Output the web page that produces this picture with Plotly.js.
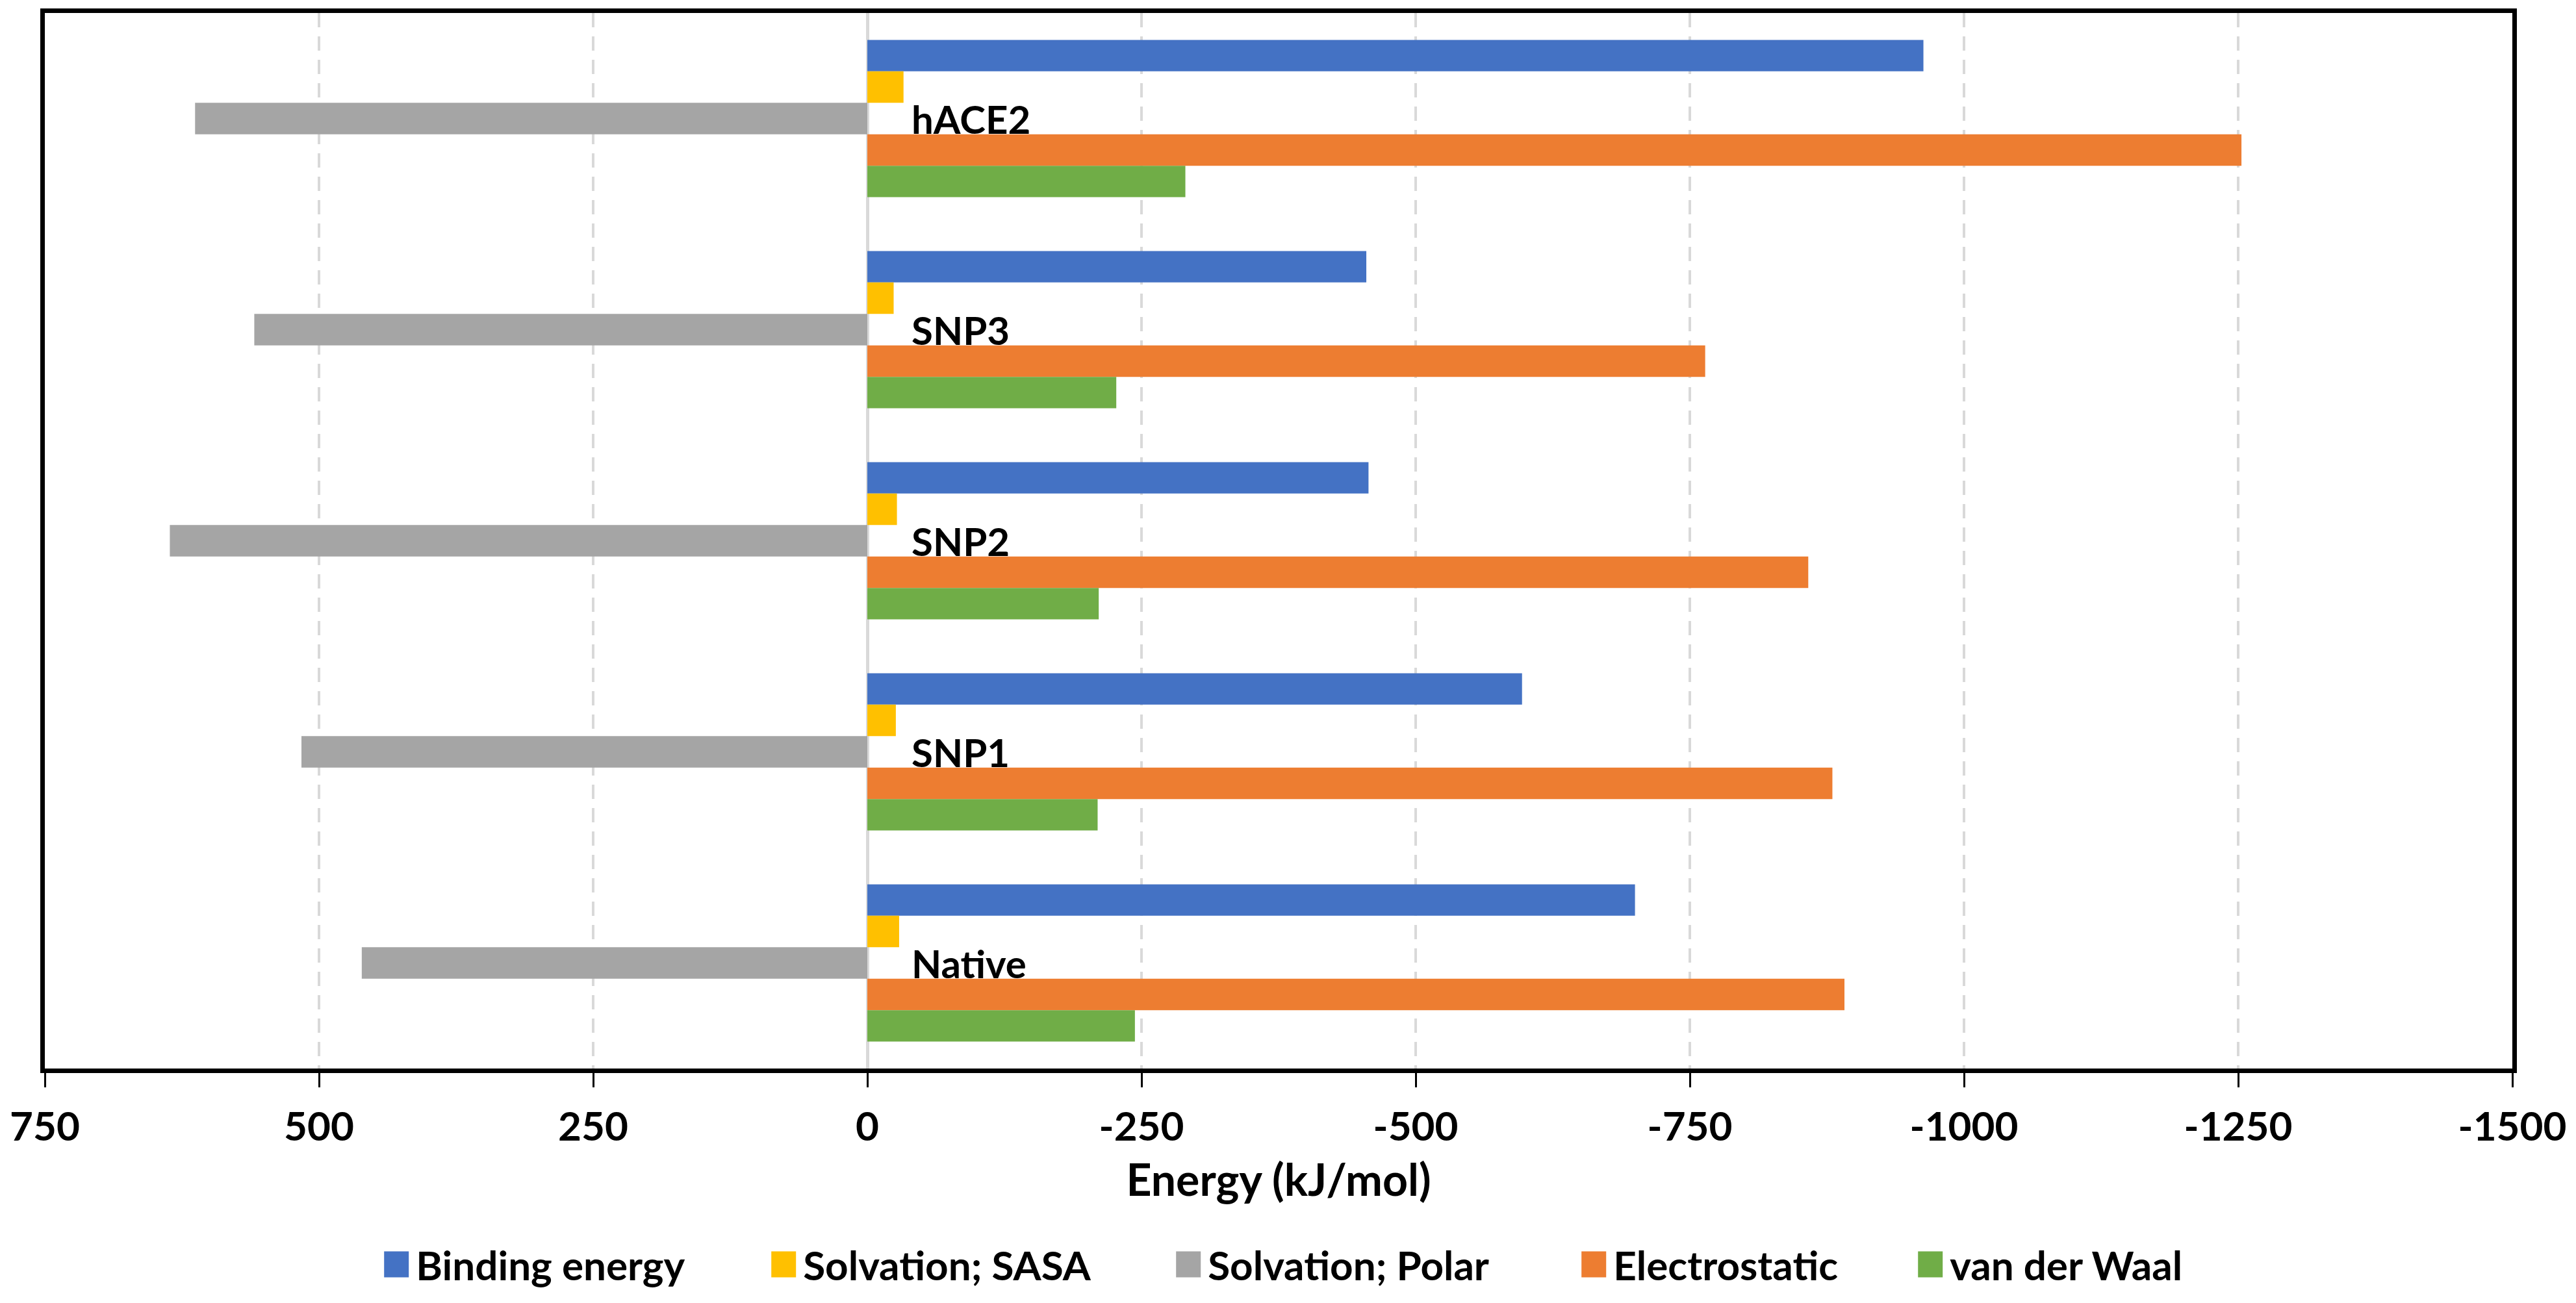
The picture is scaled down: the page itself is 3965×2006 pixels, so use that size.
<!DOCTYPE html>
<html>
<head>
<meta charset="utf-8">
<script src="https://cdn.plot.ly/plotly-3.0.1.min.js"></script>
<style>
  html, body { margin: 0; padding: 0; background: #ffffff; }
  #chart { width: 3965px; height: 2006px; }
</style>
</head>
<body>
<div id="chart"></div>
<script>
// Categories, top to bottom as drawn
const categories = ['hACE2', 'SNP3', 'SNP2', 'SNP1', 'Native'];

// Series values (kJ/mol), same order as categories
const bindingEnergy   = [-963, -455, -457, -597, -700];
const solvationSASA   = [-33, -24, -27, -26, -29];
const solvationPolar  = [613, 559, 636, 516, 461];
const electrostatic   = [-1253, -764, -858, -880, -891];
const vanDerWaal      = [-290, -227, -211, -210, -244];

const seriesNames  = ['Binding energy', 'Solvation; SASA', 'Solvation; Polar', 'Electrostatic', 'van der Waal'];
const seriesValues = [bindingEnergy, solvationSASA, solvationPolar, electrostatic, vanDerWaal];
const seriesColors = ['#4472C4', '#FFC000', '#A5A5A5', '#ED7D31', '#70AD47'];

// Axis ticks
const tickValues = [750, 500, 250, 0, -250, -500, -750, -1000, -1250, -1500];
const tickLabels = ['750', '500', '250', '0', '-250', '-500', '-750', '-1000', '-1250', '-1500'];

// Legend entry widths in pixels (styling only)
const legendEntryWidths = [531, 558, 559, 453, 453];

const FONT = 'Lato, "Open Sans", "DejaVu Sans", sans-serif';

const data = seriesNames.map((name, i) => ({
  type: 'bar',
  orientation: 'h',
  name: name,
  x: seriesValues[i],
  y: categories,
  marker: { color: seriesColors[i], line: { width: 0 } },
  legendwidth: legendEntryWidths[i],
  hoverinfo: 'skip'
}));

const annotations = categories.map(c => ({
  x: 0, y: c, xref: 'x', yref: 'y',
  xanchor: 'left', yanchor: 'middle',
  xshift: 66,
  showarrow: false,
  text: c,
  font: { family: FONT, size: 60, color: '#000000', weight: 'bold' }
}));

const layout = {
  width: 3965,
  height: 2006,
  paper_bgcolor: '#ffffff',
  plot_bgcolor: '#ffffff',
  margin: { l: 69, r: 98, t: 20, b: 359, pad: 0 },
  barmode: 'group',
  bargap: 0.255,
  bargroupgap: 0,
  font: { family: FONT, size: 60, color: '#000000', weight: 'bold' },
  showlegend: true,
  legend: {
    orientation: 'h',
    x: 0.1346, xanchor: 'left',
    y: -0.1856, yanchor: 'middle',
    font: { family: FONT, size: 62, color: '#000000', weight: 'bold' },
    itemwidth: 50,
    entrywidthmode: 'pixels',
    bgcolor: 'rgba(0,0,0,0)'
  },
  xaxis: {
    range: [750, -1500],
    tickmode: 'array',
    tickvals: tickValues,
    ticktext: tickLabels,
    ticks: 'outside',
    ticklen: 22,
    tickwidth: 3,
    tickcolor: '#000000',
    ticklabelstandoff: 8,
    tickfont: { family: FONT, size: 62, color: '#000000', weight: 'bold' },
    showgrid: true,
    gridcolor: '#d9d9d9',
    gridwidth: 4,
    griddash: '22px,14px',
    zeroline: true,
    zerolinecolor: '#d9d9d9',
    zerolinewidth: 5,
    showline: true,
    mirror: true,
    linecolor: '#000000',
    linewidth: 7,
    automargin: false,
    title: {
      text: 'Energy (kJ/mol)',
      font: { family: FONT, size: 68, color: '#000000', weight: 'bold' },
      standoff: 27
    }
  },
  yaxis: {
    type: 'category',
    categoryorder: 'array',
    categoryarray: categories,
    range: [4.5, -0.5],
    showticklabels: false,
    ticks: '',
    showgrid: false,
    zeroline: false,
    showline: true,
    mirror: true,
    linecolor: '#000000',
    linewidth: 7,
    automargin: false
  },
  annotations: annotations
};

Plotly.newPlot('chart', data, layout, { staticPlot: true, displayModeBar: false }).then(gd => {
  // Enlarge legend swatches to match the reference's square markers
  gd.querySelectorAll('.legend .legendpoints path').forEach(p => {
    p.setAttribute('d', 'M19,20H-19V-20H19Z');
  });
});
</script>
</body>
</html>
